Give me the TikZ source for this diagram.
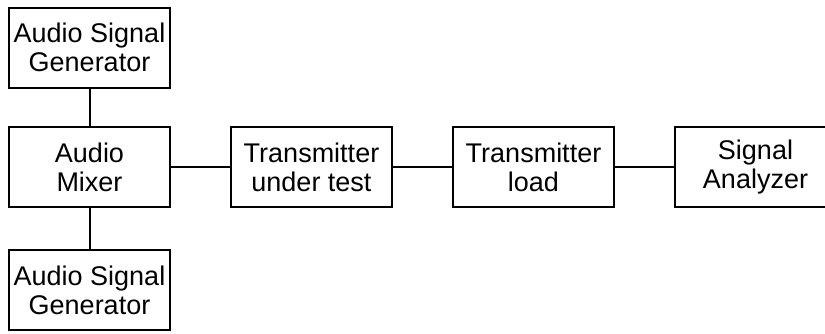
\documentclass[tikz,border=0pt]{standalone}
\usepackage{fontspec}
\setmainfont{Liberation Sans}
\begin{document}
\begin{tikzpicture}[x=1pt,y=1pt,
  blk/.style={draw,line width=2pt,minimum width=161pt,minimum height=80pt,inner sep=0pt,align=center,font=\fontsize{27}{29}\selectfont},
  conn/.style={line width=2pt}]
\useasboundingbox (0,0) rectangle (825,-333);
\clip (0,0) rectangle (825,-333);
\node[blk] (gen1) at (89.5,-47.5) {Audio Signal\\Generator};
\node[blk] (mix) at (89.5,-167) {Audio\\Mixer};
\node[blk] (gen2) at (89.5,-290) {Audio Signal\\Generator};
\node[blk] (tut) at (311.5,-167) {Transmitter\\under test};
\node[blk] (load) at (533.5,-167) {Transmitter\\load};
\node[blk] (ana) at (755.5,-167) {Signal\\Analyzer};
\draw[conn] (gen1) -- (mix);
\draw[conn] (mix) -- (gen2);
\draw[conn] (mix) -- (tut);
\draw[conn] (tut) -- (load);
\draw[conn] (load) -- (ana);
\end{tikzpicture}
\end{document}
